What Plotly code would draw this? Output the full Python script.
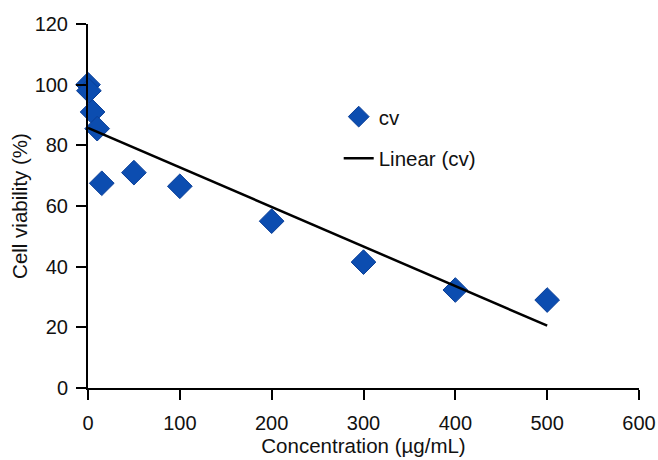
import numpy as np
import plotly.graph_objects as go

concentration = [0, 1, 5, 10, 15, 50, 100, 200, 300, 400, 500]
cell_viability = [100, 98, 91, 85.5, 67.5, 71, 66.5, 55, 41.5, 32.3, 29]
x_ticks = [0, 100, 200, 300, 400, 500, 600]
y_ticks = [0, 20, 40, 60, 80, 100, 120]

slope, intercept = np.polyfit(concentration, cell_viability, 1)
fit_x = [min(concentration), max(concentration)]
fit_y = [slope * v + intercept for v in fit_x]

font = "Liberation Sans, Arial, sans-serif"

fig = go.Figure()
fig.add_trace(go.Scatter(
    x=concentration, y=cell_viability, mode="markers", name="cv",
    legendgroup="a", cliponaxis=False,
    marker=dict(symbol="diamond", size=19, color="#0c4db0",
                line=dict(color="#0a3f98", width=1)),
))
fig.add_trace(go.Scatter(
    x=fit_x, y=fit_y, mode="lines", name="Linear (cv)",
    legendgroup="b", cliponaxis=False,
    line=dict(color="black", width=2.5),
))

fig.update_layout(
    width=658, height=460,
    margin=dict(l=88, r=19, t=24, b=72),
    paper_bgcolor="white", plot_bgcolor="white",
    font=dict(family=font, size=20, color="#111111"),
    legend=dict(x=0.455, y=0.8, xanchor="left", yanchor="top",
                bgcolor="rgba(0,0,0,0)", font=dict(size=20.5),
                itemwidth=30, tracegroupgap=12),
    showlegend=True,
)
fig.update_xaxes(
    range=[0, 600], tickvals=x_ticks, ticktext=[str(v) for v in x_ticks],
    automargin=False,
    showgrid=False, zeroline=False, showline=True, linecolor="black", linewidth=2,
    ticks="outside", ticklen=10, tickwidth=2, tickcolor="black",
    ticklabelstandoff=6,
    title=dict(text="Concentration (µg/mL)", standoff=6, font=dict(size=20.5)),
    tickfont=dict(size=20),
)
fig.update_yaxes(
    range=[0, 120], tickvals=y_ticks, ticktext=[str(v) for v in y_ticks],
    automargin=False,
    showgrid=False, zeroline=False, showline=True, linecolor="black", linewidth=2,
    ticks="outside", ticklen=10, tickwidth=2, tickcolor="black",
    ticklabelstandoff=4,
    title=dict(text="Cell viability (%)", standoff=1, font=dict(size=20.5)),
    tickfont=dict(size=20),
)

fig.write_html("out.html")
